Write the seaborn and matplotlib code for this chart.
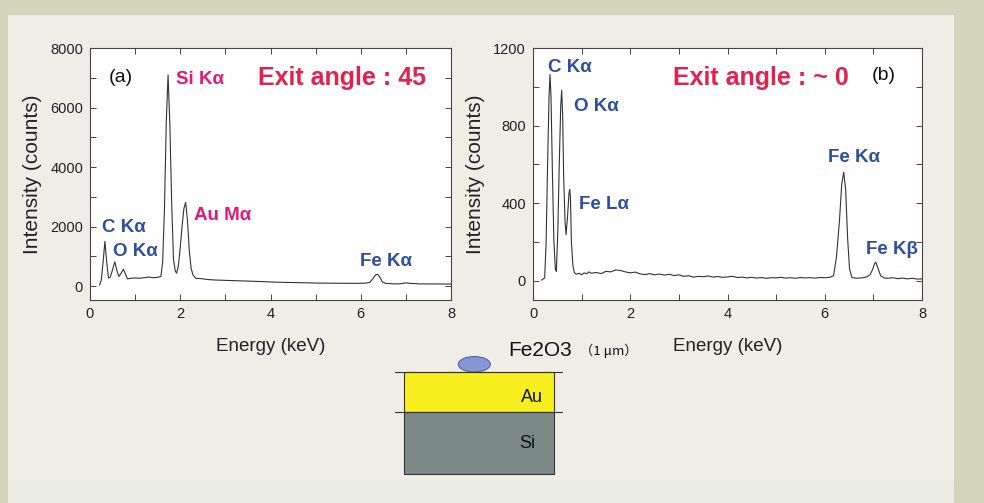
import matplotlib
matplotlib.use("Agg")
import matplotlib.pyplot as plt
import seaborn as sns
import numpy as np
import pandas as pd
from matplotlib.patches import Rectangle, Ellipse
from matplotlib.ticker import MultipleLocator

# ---------------- data ----------------
energy_a = [0.21, 0.25, 0.29, 0.33, 0.37, 0.41, 0.45, 0.50, 0.55, 0.60, 0.64, 0.69, 0.74, 0.78, 0.83,
            0.90, 1.0, 1.1, 1.2, 1.3, 1.4, 1.5, 1.57, 1.61, 1.65, 1.69, 1.73, 1.77, 1.81, 1.85, 1.89,
            1.92, 1.96, 2.00, 2.04, 2.08, 2.12, 2.16, 2.20, 2.24, 2.28, 2.34, 2.45, 2.6, 2.8, 3.0, 3.2,
            3.5, 3.8, 4.1, 4.4, 4.7, 5.0, 5.3, 5.6, 5.9, 6.1, 6.2, 6.27, 6.33, 6.38, 6.43, 6.48, 6.55,
            6.7, 6.85, 7.0, 7.1, 7.3, 7.6, 8.0]
counts_a = [30, 200, 800, 1500, 800, 270, 300, 550, 810, 500, 320, 430, 570, 420, 240,
            260, 270, 260, 280, 300, 280, 290, 320, 800, 2600, 5500, 7100, 5400, 2800, 900, 500,
            430, 700, 1300, 2000, 2600, 2810, 2200, 1200, 600, 380, 260, 250, 220, 200, 190, 180,
            165, 150, 130, 120, 110, 100, 95, 92, 90, 95, 120, 250, 380, 390, 280, 140, 90,
            75, 72, 105, 90, 72, 70, 65]

energy_b = [0.17, 0.24, 0.27, 0.30, 0.33, 0.35, 0.37, 0.40, 0.43, 0.46, 0.48, 0.51, 0.54, 0.57, 0.59,
            0.61, 0.63, 0.66, 0.68, 0.71, 0.74, 0.755, 0.77, 0.79, 0.82, 0.85, 0.89, 0.95, 1.0, 1.05,
            1.1, 1.15, 1.2, 1.3, 1.4, 1.5, 1.6, 1.7, 1.8, 1.9, 2.0, 2.1, 2.2, 2.3, 2.4, 2.5, 2.6, 2.7,
            2.8, 2.9, 3.0, 3.1, 3.2, 3.3, 3.4, 3.5, 3.6, 3.7, 3.8, 3.9, 4.0, 4.1, 4.2, 4.3, 4.4, 4.5,
            4.6, 4.7, 4.8, 4.9, 5.0, 5.1, 5.2, 5.3, 5.4, 5.5, 5.6, 5.7, 5.8, 5.9, 6.0, 6.1, 6.18, 6.24,
            6.30, 6.35, 6.39, 6.43, 6.47, 6.51, 6.56, 6.65, 6.75, 6.85, 6.93, 6.98, 7.03, 7.05, 7.1,
            7.15, 7.22, 7.3, 7.4, 7.5, 7.6, 7.7, 7.8, 7.9, 8.0]
counts_b = [2, 14, 200, 600, 950, 1063, 950, 550, 200, 60, 48, 250, 600, 900, 982,
            850, 540, 300, 237, 330, 450, 470, 430, 200, 80, 41, 33, 38, 30, 40,
            35, 45, 38, 42, 36, 48, 45, 55, 52, 45, 40, 44, 35, 31, 36, 30, 34, 28,
            33, 26, 30, 22, 25, 18, 22, 20, 24, 18, 21, 17, 19, 22, 16, 18, 14, 17,
            13, 16, 12, 15, 14, 17, 13, 15, 12, 16, 14, 15, 13, 16, 15, 17, 25, 120,
            300, 500, 559, 470, 220, 60, 16, 12, 14, 18, 30, 55, 90, 95, 60,
            25, 14, 12, 15, 10, 13, 9, 12, 8, 9]

xticks = [0, 2, 4, 6, 8]
yticks_a = [0, 2000, 4000, 6000, 8000]
yticks_b = [0, 400, 800, 1200]

labels_a = ["C Kα", "O Kα", "Si Kα", "Au Mα", "Fe Kα"]
labels_b = ["C Kα", "O Kα", "Fe Lα", "Fe Kα", "Fe Kβ"]

# ---------------- style ----------------
sns.set_theme(style="ticks")
plt.rcParams['font.family'] = ['Liberation Sans', 'DejaVu Sans']

W, H = 984, 503
fig = plt.figure(figsize=(W / 100, H / 100), dpi=100)
fig.patch.set_facecolor('#d3d5bd')

# overlay axes in pixel coordinates for background and diagram
ov = fig.add_axes([0, 0, 1, 1], zorder=0)
ov.set_xlim(0, W)
ov.set_ylim(H, 0)
ov.axis('off')
ov.add_patch(Rectangle((8, 15), 946, 466, facecolor='#efede6', edgecolor='none'))
ov.add_patch(Rectangle((8, 481), 946, 22, facecolor='#ebece4', edgecolor='none'))

# diagram
ov.add_patch(Rectangle((403.5, 372.3), 150, 39.5, facecolor='#f8ef1e', edgecolor='#333333', lw=0.8))
ov.add_patch(Rectangle((403.5, 411.8), 150, 62.5, facecolor='#7c8a87', edgecolor='#333333', lw=0.8))
ov.plot([395, 562], [372.3, 372.3], color='#333333', lw=0.8)
ov.plot([395, 562], [411.8, 411.8], color='#333333', lw=0.8)
ov.add_patch(Ellipse((474.3, 364.3), 32, 15.5, facecolor='#8597d6', edgecolor='#4f63a6', lw=0.8))
ov.text(531.5, 397, "Au", fontsize=13, ha='center', va='center', color='#111111')
ov.text(527, 444, "Si", fontsize=13, ha='center', va='center', color='#111111')
ov.text(508, 350, "Fe2O3", fontsize=15, ha='left', va='center', color='#111111')
ov.text(580, 351, "（1 μm）", fontsize=9.5, ha='left', va='center', color='#111111',
        family=['Noto Sans CJK JP', 'DejaVu Sans'])

blue = '#2d4f9e'
pink = '#e1187a'
red = '#e4204c'


def px(x, y):
    return x / W, 1 - y / H


def style_axes(ax, yt, minor_y):
    ax.set_facecolor('white')
    ax.set_xlim(0, 8)
    ax.set_xticks(xticks)
    ax.xaxis.set_minor_locator(MultipleLocator(1))
    ax.set_yticks(yt)
    ax.yaxis.set_minor_locator(MultipleLocator(minor_y))
    ax.tick_params(which='both', direction='in', top=True, right=True, length=4,
                   width=0.7, color='#444444', labelsize=10.5, labelcolor='#222222', pad=5)
    for s in ax.spines.values():
        s.set_color('#444444')
        s.set_linewidth(0.8)
        s.set_visible(True)
    ax.set_xlabel("Energy (keV)", fontsize=13.5, color='#222222', labelpad=12)
    ax.set_ylabel("Intensity (counts)", fontsize=15, color='#222222', labelpad=6)


# panel (a)
axa = fig.add_axes([90 / W, 1 - 300 / H, 361 / W, 252 / H], zorder=1)
dfa = pd.DataFrame({"Energy": energy_a, "Counts": counts_a})
sns.lineplot(data=dfa, x="Energy", y="Counts", ax=axa, color='#333333', lw=0.8)
axa.set_ylim(-470, 8000)
style_axes(axa, yticks_a, 1000)

# panel (b)
axb = fig.add_axes([533 / W, 1 - 300 / H, 389 / W, 252 / H], zorder=1)
dfb = pd.DataFrame({"Energy": energy_b, "Counts": counts_b})
sns.lineplot(data=dfb, x="Energy", y="Counts", ax=axb, color='#333333', lw=0.8)
axb.set_ylim(-100, 1200)
style_axes(axb, yticks_b, 200)

# annotations panel (a)
tk = dict(fontsize=13.5, fontweight='bold', ha='left', va='center')
fig.text(*px(109, 77), "(a)", fontsize=14, color='#111111', ha='left', va='center')
fig.text(*px(176, 80), labels_a[2], color=pink, **tk)
fig.text(*px(258, 78), "Exit angle : 45", fontsize=18, fontweight='bold', color=red,
         ha='left', va='center')
fig.text(*px(102, 228), labels_a[0], color=blue, **tk)
fig.text(*px(113, 251), labels_a[1], color=blue, **tk)
fig.text(*px(194, 215), labels_a[3], color=pink, **tk)
fig.text(*px(360, 261), labels_a[4], color=blue, **tk)

# annotations panel (b)
fig.text(*px(548, 68), labels_b[0], color=blue, **tk)
fig.text(*px(574, 107), labels_b[1], color=blue, **tk)
fig.text(*px(579, 204), labels_b[2], color=blue, **tk)
fig.text(*px(673, 78), "Exit angle : ~ 0", fontsize=18, fontweight='bold', color=red,
         ha='left', va='center')
fig.text(*px(872, 76), "(b)", fontsize=14, color='#111111', ha='left', va='center')
fig.text(*px(828, 158), labels_b[3], color=blue, **tk)
fig.text(*px(866, 250), labels_b[4], color=blue, **tk)

fig.savefig("out.png", dpi=100, facecolor=fig.get_facecolor())
